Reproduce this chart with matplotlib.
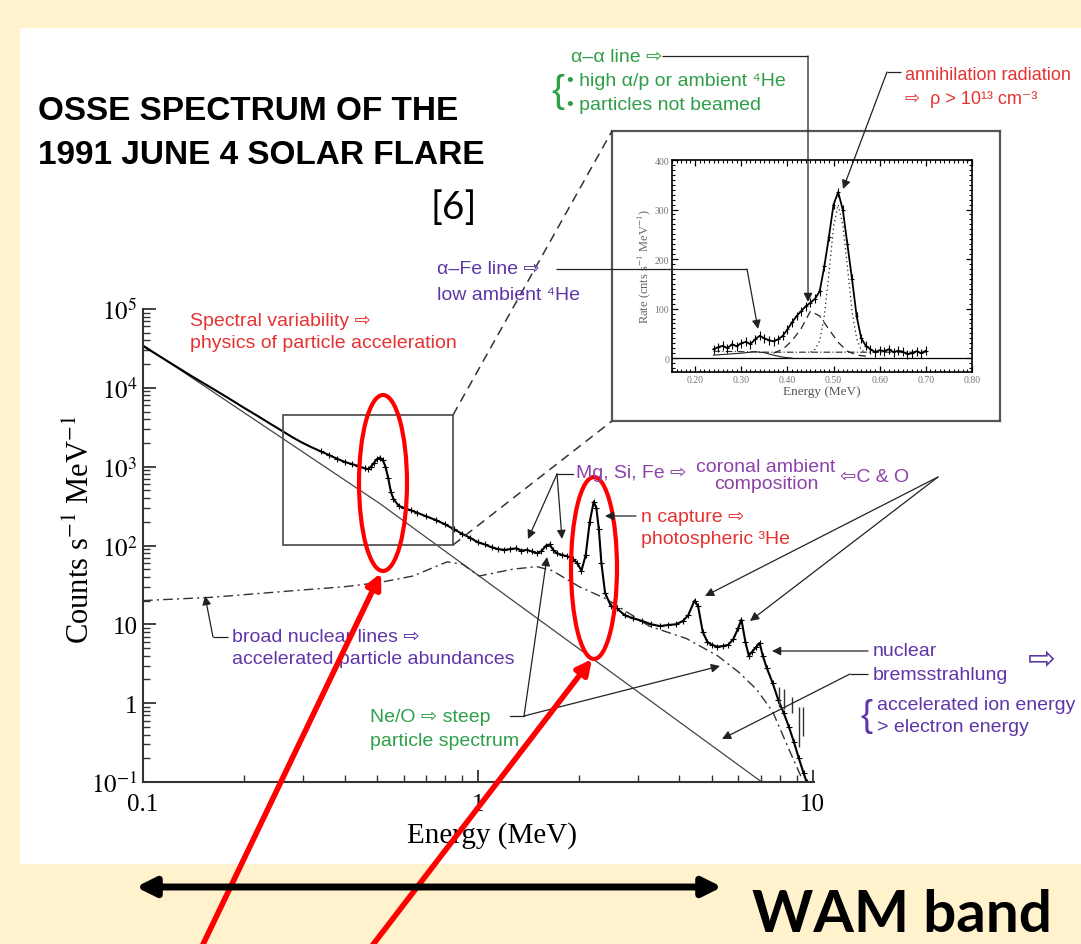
import matplotlib
matplotlib.use("Agg")
import matplotlib.pyplot as plt
from matplotlib.patches import Rectangle, Ellipse
from matplotlib.ticker import LogLocator, NullFormatter, MultipleLocator

plt.rcParams["mathtext.fontset"] = "stix"

SANS = ["Liberation Sans", "DejaVu Sans"]
SERIF = ["Liberation Serif", "DejaVu Serif"]
RED = "#e53232"
GREEN = "#2f9e48"
PURPLE = "#5f36a8"
MAGENTA = "#8c42a8"

# main OSSE spectrum (energy MeV, counts s-1 MeV-1)
energy = [0.10, 0.12, 0.14, 0.16, 0.18, 0.20, 0.22, 0.24, 0.26, 0.28, 0.30,
          0.32, 0.34, 0.36, 0.38, 0.40, 0.42, 0.44, 0.46, 0.47, 0.48, 0.49,
          0.50, 0.51, 0.52, 0.53, 0.54, 0.55, 0.56, 0.58, 0.60, 0.63, 0.66,
          0.70, 0.75, 0.80, 0.85, 0.90, 0.95, 1.00, 1.05, 1.10, 1.15, 1.20,
          1.25, 1.30, 1.35, 1.40, 1.45, 1.50, 1.55, 1.60, 1.64, 1.68, 1.72,
          1.78, 1.85, 1.92, 1.98, 2.04, 2.10, 2.16, 2.22, 2.26, 2.30, 2.34,
          2.40, 2.50, 2.60, 2.75, 2.90, 3.10, 3.30, 3.50, 3.70, 3.90, 4.10,
          4.25, 4.44, 4.55, 4.70, 4.85, 5.00, 5.20, 5.40, 5.60, 5.80, 6.00,
          6.13, 6.30, 6.45, 6.60, 6.80, 6.95, 7.10, 7.30, 7.60, 7.90, 8.20,
          8.50, 8.80, 9.10, 9.40, 9.60]
counts = [34000, 21000, 14000, 10000, 7400, 5600, 4400, 3500, 2850, 2350,
          2000, 1750, 1560, 1400, 1260, 1150, 1080, 1020, 950, 930, 1000,
          1120, 1250, 1300, 1220, 1000, 720, 480, 390, 320, 300, 280, 260,
          235, 210, 185, 160, 140, 125, 110, 103, 95, 90, 88, 90, 92, 86,
          88, 84, 80, 85, 100, 103, 88, 80, 76, 73, 68, 60, 48, 75, 200,
          360, 300, 160, 60, 25, 17, 16, 13, 12, 11, 10, 9.5, 9.8, 10, 11,
          13, 20, 17, 8, 6, 5.5, 5.2, 5.3, 5.5, 6.5, 9, 11.5, 6, 4, 4.5,
          5.2, 5.8, 4, 2.8, 1.8, 1.1, 0.75, 0.5, 0.32, 0.2, 0.13, 0.1]

# electron bremsstrahlung power law (thin line)
pl_energy = [0.10, 0.51, 7.05]
pl_counts = [35000, 340, 0.1]

# broad nuclear lines + nuclear continuum (dash-dot)
nuc_energy = [0.10, 0.16, 0.29, 0.40, 0.51, 0.64, 0.81, 0.90, 1.01, 1.27,
              1.50, 1.67, 2.01, 2.42, 3.25, 4.20, 5.20, 6.00, 6.80, 7.60,
              8.50, 9.30]
nuc_counts = [20, 22, 27, 30, 34, 41, 62, 58, 41, 50, 54, 48, 30, 21, 9.5,
              6.6, 4.0, 2.5, 1.5, 0.78, 0.26, 0.11]

# high-energy points with large error bars
tail_energy = [7.96, 8.24, 8.70, 9.10, 9.35]
tail_lo = [0.9, 0.85, 0.75, 0.28, 0.38]
tail_hi = [1.6, 1.5, 1.2, 0.9, 0.9]

# inset: 0.2-0.8 MeV region
ins_energy = [0.24, 0.25, 0.26, 0.27, 0.28, 0.29, 0.30, 0.31, 0.32, 0.33,
              0.34, 0.35, 0.36, 0.37, 0.38, 0.39, 0.40, 0.41, 0.42, 0.43,
              0.44, 0.45, 0.46, 0.47, 0.48, 0.49, 0.50, 0.51, 0.52, 0.53,
              0.54, 0.55, 0.56, 0.57, 0.58, 0.59, 0.60, 0.61, 0.62, 0.63,
              0.64, 0.65, 0.66, 0.67, 0.68, 0.69, 0.70]
ins_rate = [18, 22, 25, 20, 28, 24, 30, 33, 28, 38, 45, 40, 36, 34, 38, 45,
            58, 72, 85, 95, 105, 112, 120, 135, 185, 245, 310, 335, 300, 230,
            160, 85, 40, 25, 18, 12, 16, 14, 18, 12, 15, 13, 8, 10, 14, 10, 15]
ann_energy = [0.45, 0.46, 0.47, 0.48, 0.49, 0.50, 0.51, 0.52, 0.53, 0.54,
              0.55, 0.56, 0.57]
ann_rate = [12, 18, 35, 85, 170, 265, 310, 270, 185, 95, 40, 16, 12]
aa_energy = [0.37, 0.39, 0.41, 0.43, 0.45, 0.47, 0.49, 0.51, 0.53, 0.55, 0.57]
aa_rate = [10, 18, 35, 60, 95, 85, 58, 32, 14, 6, 4]
cont_energy = [0.24, 0.30, 0.36, 0.42, 0.48, 0.54, 0.60, 0.66, 0.70]
cont_rate = [14, 13, 12, 12, 12, 12, 12, 12, 12]
afe_energy = [0.24, 0.27, 0.30, 0.33, 0.35, 0.37, 0.39, 0.41]
afe_rate = [6, 8, 10, 13, 11, 6, 2, 0]

W, H = 1081, 945
fig = plt.figure(figsize=(W / 100, H / 100), dpi=100)
fig.patch.set_facecolor("#fff2cc")


def rect(x0, y0, x1, y1):
    return [x0 / W, 1 - y1 / H, (x1 - x0) / W, (y1 - y0) / H]


# white slide panel
bg = fig.add_axes([0, 0, 1, 1], zorder=0)
bg.set_xlim(0, W)
bg.set_ylim(H, 0)
bg.axis("off")
bg.add_patch(Rectangle((20, 29), W - 20, 836, fc="white", ec="none"))

# ---- main spectrum
ax = fig.add_axes(rect(143, 310, 814, 783), zorder=1)
ax.set_facecolor("none")
ax.set_xscale("log")
ax.set_yscale("log")
ax.plot(pl_energy, pl_counts, color="#444", lw=0.9)
ax.plot(nuc_energy, nuc_counts, color="#333", lw=1.0, ls=(0, (7, 3, 1.5, 3)))
ax.plot(energy, counts, color="k", lw=1.5)
ax.plot(energy[12:], counts[12:], "+", color="k", ms=5, mew=0.8)
ax.vlines(tail_energy, tail_lo, tail_hi, color="#333", lw=1.0)
ax.set_xlim(0.1, 10.1)
ax.set_ylim(0.1, 1e5)
for s in ("top", "right"):
    ax.spines[s].set_visible(False)
for s in ("left", "bottom"):
    ax.spines[s].set_color("#333")
    ax.spines[s].set_linewidth(1.5)
ax.set_yticks([0.1, 1, 10, 100, 1e3, 1e4, 1e5])
ax.set_yticklabels([r"$10^{-1}$", "1", "10", r"$10^2$", r"$10^3$",
                    r"$10^4$", r"$10^5$"])
ax.set_xticks([0.1, 1, 10])
ax.set_xticklabels(["0.1", "1", "10"])
ax.xaxis.set_minor_locator(LogLocator(subs=range(2, 10)))
ax.yaxis.set_minor_locator(LogLocator(subs=range(2, 10), numticks=20))
ax.xaxis.set_minor_formatter(NullFormatter())
ax.yaxis.set_minor_formatter(NullFormatter())
ax.tick_params(which="major", direction="in", length=9, width=1.3,
               color="#333", labelsize=18, pad=4)
ax.tick_params(axis="x", which="major", pad=8)
ax.tick_params(which="minor", direction="in", length=5, width=1.0,
               color="#333")
for lab in ax.get_xticklabels() + ax.get_yticklabels():
    lab.set_family(SERIF)
ax.set_xlabel("Energy (MeV)", family=SERIF, fontsize=21)
ax.set_ylabel(r"Counts s$^{-1}$ MeV$^{-1}$", family=SERIF, fontsize=22)
ax.xaxis.set_label_coords(0.52, -0.083)
ax.yaxis.set_label_coords(-0.07, 0.535)

# ---- inset frame and inset plot
frame = fig.add_axes(rect(612, 132, 1000, 422), zorder=2)
frame.set_xticks([])
frame.set_yticks([])
for s in frame.spines.values():
    s.set_color("#555")
    s.set_linewidth(1.6)

ins = fig.add_axes(rect(672, 161, 972, 373), zorder=3)
ins.axhline(0, color="k", lw=0.9)
ins.plot(cont_energy, cont_rate, color="#222", lw=0.8, ls=(0, (6, 2, 1, 2)))
ins.plot(afe_energy, afe_rate, color="#222", lw=0.8)
ins.plot(aa_energy, aa_rate, color="#222", lw=0.9, ls=(0, (6, 4)))
ins.plot(ann_energy, ann_rate, color="#222", lw=0.9, ls=(0, (1, 2.5)))
ins.errorbar(ins_energy, ins_rate, yerr=9, xerr=0.004, fmt="-", color="k",
             lw=1.3, elinewidth=0.8, capsize=0)
ins.set_xlim(0.15, 0.80)
ins.set_ylim(-28, 400)
ins.set_xticks([0.2, 0.3, 0.4, 0.5, 0.6, 0.7, 0.8])
ins.set_xticklabels(["0.20", "0.30", "0.40", "0.50", "0.60", "0.70", "0.80"])
ins.set_yticks([0, 100, 200, 300, 400])
ins.xaxis.set_minor_locator(MultipleLocator(0.01))
ins.yaxis.set_minor_locator(MultipleLocator(10))
ins.tick_params(which="both", direction="in", top=True, right=True,
                labelsize=7, labelcolor="#777", pad=2)
ins.tick_params(which="major", length=4, width=0.9)
ins.tick_params(which="minor", length=2, width=0.8)
for lab in ins.get_xticklabels() + ins.get_yticklabels():
    lab.set_family(SERIF)
for s in ins.spines.values():
    s.set_linewidth(1.2)
ins.set_xlabel("Energy (MeV)", family=SERIF, fontsize=9.5, color="#555",
               labelpad=1)
ins.set_ylabel(r"Rate (cnts s$^{-1}$ MeV$^{-1}$)", family=SERIF, fontsize=9,
               color="#666", labelpad=1)

# ---- annotation overlay in pixel coordinates
ov = fig.add_axes([0, 0, 1, 1], zorder=10)
ov.set_xlim(0, W)
ov.set_ylim(H, 0)
ov.axis("off")


def pointer(pts, color="#222", lw=0.9):
    xs = [p[0] for p in pts]
    ys = [p[1] for p in pts]
    ov.plot(xs[:-1], ys[:-1], color=color, lw=lw, solid_capstyle="butt")
    ov.annotate("", xy=pts[-1], xytext=pts[-2],
                arrowprops=dict(arrowstyle="-|>", color=color, lw=lw,
                                mutation_scale=13, shrinkA=0, shrinkB=0))


def label(x, y, s, color, size=14, **kw):
    ov.text(x, y, s, color=color, fontsize=size, family=SANS, va="center",
            **kw)


# small box on the spectrum and zoom lines to the inset
ov.add_patch(Rectangle((283, 416), 170, 130, fill=False, ec="#555", lw=1.3))
ov.plot([453, 612], [416, 132], color="#333", lw=1.1, ls=(0, (6, 4)))
ov.plot([453, 612], [546, 422], color="#333", lw=1.1, ls=(0, (6, 4)))

ov.text(38, 112, "OSSE SPECTRUM OF THE", fontsize=24, weight="bold",
        family=SANS, va="center")
ov.text(38, 155, "1991 JUNE 4 SOLAR FLARE", fontsize=24, weight="bold",
        family=SANS, va="center")
ov.text(430, 208, "[6]", fontsize=28, family=["Lato", "DejaVu Sans"],
        va="center")

label(571, 57, "α–α line ⇨", GREEN)
label(551, 92, "{", GREEN, size=28)
label(567, 81, "• high α/p or ambient ⁴He", GREEN)
label(567, 105, "• particles not beamed", GREEN)
pointer([(662, 57), (808, 57), (808, 303)])

label(905, 75, "annihilation radiation", RED, size=13)
label(905, 99, "⇨  ρ > 10¹³ cm⁻³", RED, size=13)
pointer([(901, 73), (887, 73), (843, 190)])

label(437, 270, "α–Fe line ⇨", PURPLE)
label(437, 295, "low ambient ⁴He", PURPLE)
pointer([(556, 270), (747, 270), (758, 330)])

label(190, 322, "Spectral variability ⇨", RED)
label(190, 344, "physics of particle acceleration", RED)

label(576, 474, "Mg, Si, Fe ⇨", MAGENTA)
ov.text(766, 476, "coronal ambient\ncomposition", color=MAGENTA, fontsize=14,
        family=SANS, va="center", ha="center", linespacing=1.0)
label(840, 477, "⇦C & O", MAGENTA)
ov.plot([573, 557], [475, 475], color="#222", lw=0.9)
pointer([(557, 475), (528, 540)])
pointer([(557, 475), (562, 540)])
pointer([(938, 478), (705, 597)])
pointer([(938, 478), (750, 622)])

label(641, 517, "n capture ⇨", RED)
label(641, 540, "photospheric ³He", RED)
pointer([(636, 517), (605, 517)])

label(232, 637, "broad nuclear lines ⇨", PURPLE)
label(232, 660, "accelerated particle abundances", PURPLE)
pointer([(228, 638), (213, 638), (205, 597)])

label(370, 717, "Ne/O ⇨ steep", GREEN)
label(370, 742, "particle spectrum", GREEN)
ov.plot([510, 524], [717, 717], color="#222", lw=0.9)
pointer([(524, 717), (547, 558)])
pointer([(524, 717), (720, 667)])

label(873, 652, "nuclear", PURPLE)
label(873, 675, "bremsstrahlung", PURPLE)
label(1028, 660, "⇨", PURPLE, size=24)
pointer([(868, 652), (772, 652)])
pointer([(868, 675), (850, 675), (722, 740)])
label(860, 717, "{", PURPLE, size=26)
label(877, 705, "accelerated ion energy", PURPLE)
label(877, 728, "> electron energy", PURPLE)

# red highlights
ov.add_patch(Ellipse((383, 484), 48, 176, fill=False, ec="red", lw=3))
ov.add_patch(Ellipse((594, 569), 46, 182, fill=False, ec="red", lw=3))
ov.annotate("", xy=(381, 574), xytext=(196, 960),
            arrowprops=dict(arrowstyle="-|>", color="red", lw=4,
                            mutation_scale=22, shrinkA=0, shrinkB=0))
ov.annotate("", xy=(592, 660), xytext=(362, 960),
            arrowprops=dict(arrowstyle="-|>", color="red", lw=4,
                            mutation_scale=22, shrinkA=0, shrinkB=0))

# WAM band
ov.annotate("", xy=(136, 888), xytext=(722, 888),
            arrowprops=dict(arrowstyle="<|-|>", color="k", lw=5,
                            mutation_scale=28, shrinkA=0, shrinkB=0))
ov.text(752, 916, "WAM band", fontsize=42, weight="bold",
        family=["Lato", "DejaVu Sans"], va="center")

fig.savefig("out.png", dpi=100, facecolor=fig.get_facecolor())
